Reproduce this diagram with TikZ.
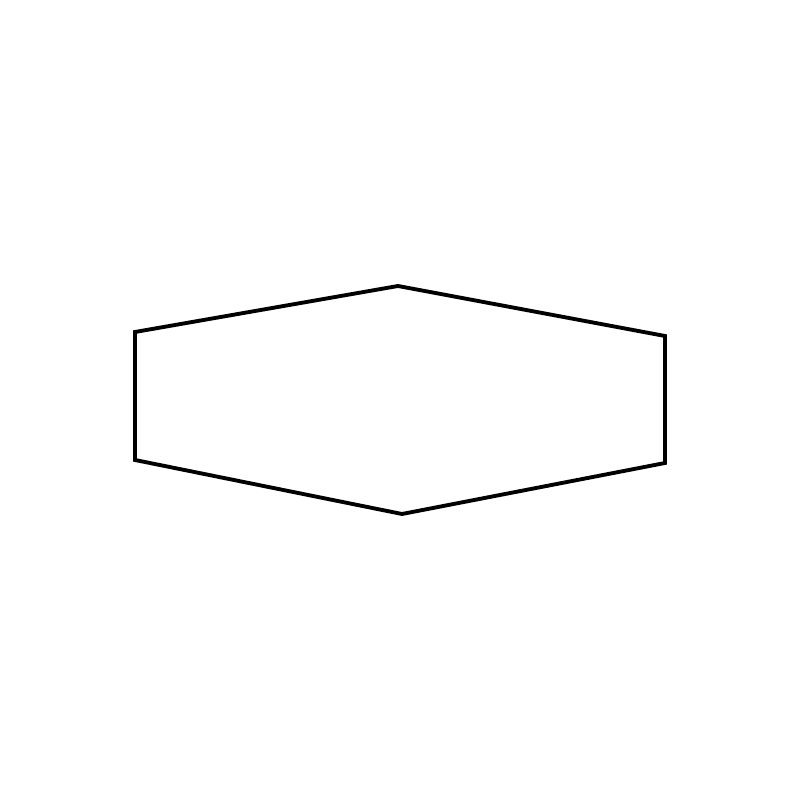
\documentclass[tikz,border=0pt]{standalone}
\usepackage{tikz}

\begin{document}
\begin{tikzpicture}[thick,outline/.style={draw=black,line width=1.1pt,line join=miter}]
  \useasboundingbox (0,0) rectangle (8,8);
  \coordinate (1) at (1.35,4.68);
  \coordinate (2) at (3.98,5.14);
  \coordinate (3) at (6.65,4.64);
  \coordinate (4) at (6.65,3.37);
  \coordinate (5) at (4.02,2.86);
  \coordinate (6) at (1.35,3.40);
  \draw [outline] (1) -- (2) -- (3) -- (4) -- (5) -- (6) -- cycle;
\end{tikzpicture}
\end{document}
